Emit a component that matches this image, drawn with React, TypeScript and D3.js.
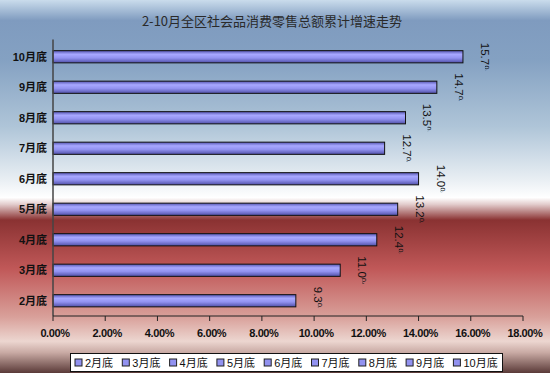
import React from "react";
import * as d3 from "d3";

const categories = ["2月底", "3月底", "4月底", "5月底", "6月底", "7月底", "8月底", "9月底", "10月底"];
const values = [9.3, 11.0, 12.4, 13.2, 14.0, 12.7, 13.5, 14.7, 15.7];
const xTicks = [0, 2, 4, 6, 8, 10, 12, 14, 16, 18];
const title = "2-10月全区社会品消费零售总额累计增速走势";

const W = 550;
const H = 373;
const M = { left: 53, right: 523, top: 41.5, bottom: 316 };

export default function App() {
  const x = d3.scaleLinear().domain([0, 18]).range([M.left, M.right]);
  const y = d3
    .scaleBand<string>()
    .domain([...categories].reverse())
    .range([M.top, M.bottom])
    .paddingInner(0.6)
    .paddingOuter(0.3);
  const bw = y.bandwidth();

  const legendX0 = 70;
  const legendStep = 47.3;
  const fs = 11.5;

  return (
    <svg
      width={W}
      height={H}
      style={{ position: "absolute", left: 0, top: 0 }}
      fontFamily="Arial, 'Liberation Sans', 'Noto Sans CJK SC', sans-serif"
    >
      <defs>
        <linearGradient id="bg" x1="0" y1="0" x2="0" y2="1">
          <stop offset="0" stopColor="#cadcec" />
          <stop offset="0.055" stopColor="#7f9bbf" />
          <stop offset="0.16" stopColor="#84a1c2" />
          <stop offset="0.34" stopColor="#afc5d8" />
          <stop offset="0.48" stopColor="#e8eef3" />
          <stop offset="0.53" stopColor="#ffffff" />
          <stop offset="0.548" stopColor="#e2cccc" />
          <stop offset="0.59" stopColor="#8a3232" />
          <stop offset="0.72" stopColor="#c05858" />
          <stop offset="0.85" stopColor="#d9a09a" />
          <stop offset="0.915" stopColor="#ecd6d0" />
          <stop offset="0.945" stopColor="#c9aaa4" />
          <stop offset="1" stopColor="#5a3a38" />
        </linearGradient>
        <linearGradient id="barg" x1="0" y1="0" x2="0" y2="1">
          <stop offset="0" stopColor="#5454b0" />
          <stop offset="0.3" stopColor="#a8a8ff" />
          <stop offset="0.6" stopColor="#9292f0" />
          <stop offset="1" stopColor="#5050a8" />
        </linearGradient>
      </defs>
      <rect x={0} y={0} width={W} height={H} fill="url(#bg)" />

      <text
        x={272}
        y={26}
        textAnchor="middle"
        fontSize={13}
        fill="#2a2a2a"
        fontFamily="'Noto Sans CJK SC', sans-serif"
      >
        {title}
      </text>

      {categories.map((c, i) => {
        const yy = y(c)!;
        return (
          <g key={c}>
            <rect
              x={x(0)}
              y={yy}
              width={x(values[i]) - x(0)}
              height={bw}
              fill="url(#barg)"
              stroke="#111"
              strokeWidth={1}
            />
            <text
              x={47}
              y={yy + bw / 2}
              dy="0.35em"
              textAnchor="end"
              fontSize={11}
              fontWeight="bold"
              fill="#111"
            >
              {c}
            </text>
          </g>
        );
      })}

      {categories.map((c, i) => {
        const cy = y(c)! + bw / 2;
        const cx = x(values[i]) + 22;
        const id = `clip${i}`;
        const s = values[i].toFixed(1);
        const numW = (s.length - 1) * fs * 0.556 + fs * 0.278;
        return (
          <g key={"l" + c} transform={`translate(${cx},${cy}) rotate(90)`}>
            <clipPath id={id}>
              <rect x={-14} y={-12} width={numW} height={20} />
              <rect x={-14 + numW} y={-12} width={5} height={12} />
            </clipPath>
            <text
              x={-14}
              y={0}
              dy="0.35em"
              fontSize={fs}
              fill="#111"
              clipPath={`url(#${id})`}
            >
              {s + "%"}
            </text>
          </g>
        );
      })}

      <line x1={M.left} x2={M.left} y1={M.top - 2} y2={M.bottom} stroke="#444" strokeWidth={1.5} />
      <line x1={M.left} x2={M.right} y1={M.bottom} y2={M.bottom} stroke="#222" strokeWidth={1} />
      {xTicks.map((t) => (
        <g key={t}>
          <line x1={x(t)} x2={x(t)} y1={M.bottom} y2={M.bottom + 5} stroke="#222" />
          <text
            x={x(t) + 2}
            y={337}
            textAnchor="middle"
            fontSize={11}
            fontWeight="bold"
            letterSpacing={-0.4}
            fill="#111"
          >
            {t.toFixed(2) + "%"}
          </text>
        </g>
      ))}

      <rect x={70.5} y={353.5} width={432} height={18} fill="#ffffff" stroke="#111" strokeWidth={1} />
      {categories.map((c, i) => {
        const lx = legendX0 + 5 + i * legendStep;
        return (
          <g key={"lg" + c}>
            <rect x={lx} y={359} width={7} height={7} fill="#9292f0" stroke="#222" strokeWidth={1} />
            <text x={lx + 10} y={367} fontSize={11} fill="#111">
              {c}
            </text>
          </g>
        );
      })}
    </svg>
  );
}
